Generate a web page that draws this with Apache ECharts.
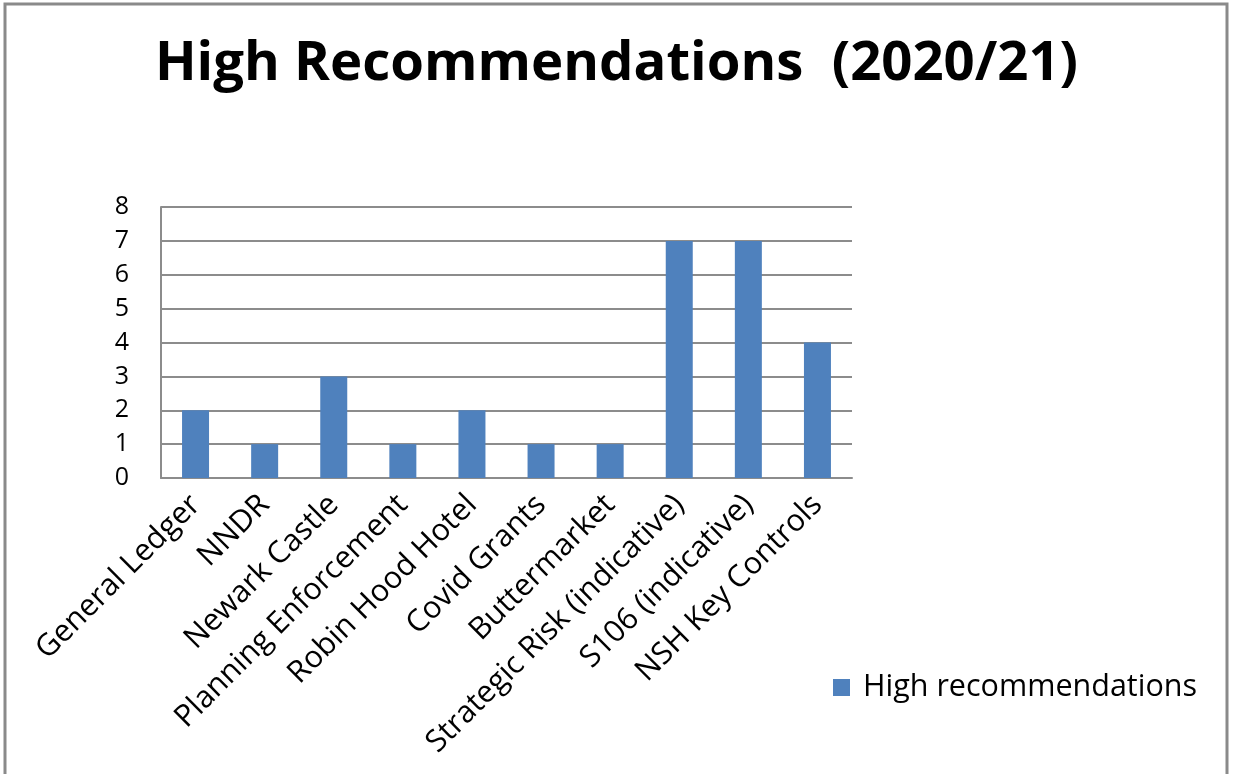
<!DOCTYPE html>
<html>
<head>
<meta charset="utf-8">
<script src="https://cdn.jsdelivr.net/npm/echarts@6/dist/echarts.min.js"></script>
<style>
  html, body { margin: 0; padding: 0; background: #ffffff; }
  #chart { width: 1233px; height: 774px; }
</style>
</head>
<body>
<div id="chart"></div>
<script>
// Audit areas and the number of high-priority recommendations raised in each
const categories = [
  'General Ledger', 'NNDR', 'Newark Castle', 'Planning Enforcement',
  'Robin Hood Hotel', 'Covid Grants', 'Buttermarket',
  'Strategic Risk (indicative)', 'S106 (indicative)', 'NSH Key Controls'
];
const highRecommendations = [2, 1, 3, 1, 2, 1, 1, 7, 7, 4];
const yTicks = [0, 1, 2, 3, 4, 5, 6, 7, 8];

const FONT = '"Open Sans"';
const chart = echarts.init(document.getElementById('chart'));

chart.setOption({
  animation: false,
  backgroundColor: '#ffffff',
  title: {
    text: 'High Recommendations  (2020/21)',
    left: 'center',
    top: 32,
    textStyle: { fontFamily: FONT, fontWeight: 'bold', fontSize: 54.5, color: '#000000' }
  },
  graphic: [{
    type: 'rect',
    shape: { x: 5, y: 4, width: 1222, height: 790 },
    style: { fill: 'none', stroke: '#8a8a8a', lineWidth: 3 },
    silent: true
  }],
  legend: {
    left: 833,
    top: 672,
    padding: 0,
    itemWidth: 17,
    itemHeight: 17,
    itemGap: 10,
    icon: 'rect',
    textStyle: { fontFamily: FONT, fontSize: 30.5, color: '#000000', padding: [0, 0, 0, 8] },
    data: ['High recommendations']
  },
  grid: { left: 161, right: 381, top: 207, bottom: 296, containLabel: false },
  xAxis: {
    type: 'category',
    data: categories,
    axisLine: { show: true, lineStyle: { color: '#8c8c8c', width: 2 } },
    axisTick: { show: false },
    axisLabel: {
      interval: 0,
      rotate: 45,
      margin: 22,
      fontFamily: FONT,
      fontSize: 30.5,
      color: '#000000'
    }
  },
  yAxis: {
    type: 'value',
    min: yTicks[0],
    max: yTicks[yTicks.length - 1],
    interval: 1,
    axisLine: { show: true, lineStyle: { color: '#8c8c8c', width: 2 } },
    axisTick: { show: false },
    splitLine: { show: true, lineStyle: { color: '#8c8c8c', width: 2 } },
    axisLabel: { margin: 32, fontFamily: FONT, fontSize: 25, color: '#000000' }
  },
  series: [{
    name: 'High recommendations',
    type: 'bar',
    data: highRecommendations,
    barWidth: 27,
    itemStyle: { color: '#4f81bd' }
  }]
});
</script>
</body>
</html>
